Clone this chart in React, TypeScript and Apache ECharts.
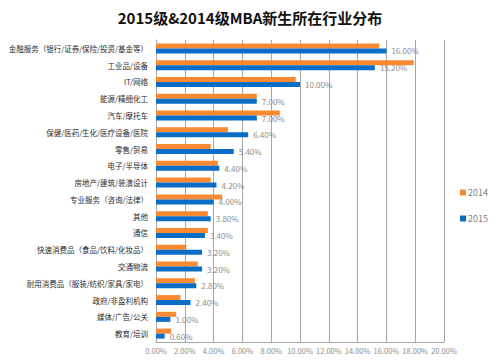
import React, { useEffect, useRef } from "react";
import * as echarts from "echarts";

const categories = [
  "金融服务（银行/证券/保险/投资/基金等）",
  "工业品/设备",
  "IT/网络",
  "能源/精细化工",
  "汽车/摩托车",
  "保健/医药/生化/医疗设备/医院",
  "零售/贸易",
  "电子/半导体",
  "房地产/建筑/装潢设计",
  "专业服务（咨询/法律）",
  "其他",
  "通信",
  "快速消费品（食品/饮料/化妆品）",
  "交通物流",
  "耐用消费品（服装/纺织/家具/家电）",
  "政府/非盈利机构",
  "媒体/广告/公关",
  "教育/培训",
];

const values2014 = [15.5, 17.9, 9.7, 7.0, 8.6, 5.0, 3.8, 4.3, 3.8, 4.6, 3.6, 3.6, 2.1, 2.9, 2.7, 1.7, 1.4, 1.05];
const values2015 = [16.0, 15.2, 10.0, 7.0, 7.0, 6.4, 5.4, 4.4, 4.2, 4.0, 3.8, 3.4, 3.2, 3.2, 2.8, 2.4, 1.0, 0.6];

const xTicks = { min: 0, max: 20, interval: 2 };

export default function App() {
  const ref = useRef<HTMLDivElement>(null);
  useEffect(() => {
    if (!ref.current) return;
    const chart = echarts.init(ref.current, undefined, { renderer: "svg" });
    const font = "'Noto Sans CJK SC', 'Noto Sans', sans-serif";
    chart.setOption({
      animation: false,
      backgroundColor: "#fff",
      textStyle: { fontFamily: font },
      title: {
        text: "2015级&2014级MBA新生所在行业分布",
        left: "center",
        top: 5,
        textStyle: { fontSize: 15, fontWeight: "bold", color: "#111", fontFamily: font },
      },
      legend: {
        orient: "vertical",
        left: 455,
        top: 183,
        itemWidth: 6,
        itemHeight: 6,
        itemGap: 17,
        icon: "rect",
        textStyle: { fontSize: 9, color: "#7f7f7f", padding: [0, 0, 0, -3] },
        data: ["2014", "2015"],
      },
      grid: { left: 156, right: 56, top: 40, bottom: 19, containLabel: false },
      xAxis: {
        type: "value",
        min: xTicks.min,
        max: xTicks.max,
        interval: xTicks.interval,
        axisLine: { show: true, lineStyle: { color: "#a6a6a6", width: 1 } },
        axisTick: { show: false },
        splitLine: { show: true, lineStyle: { color: "#a6a6a6", width: 1 } },
        axisLabel: {
          fontSize: 7.5,
          color: "#8c8c8c",
          margin: 5,
          formatter: (v: number) => v.toFixed(2) + "%",
        },
      },
      yAxis: {
        type: "category",
        inverse: true,
        data: categories,
        axisLine: { show: true, lineStyle: { color: "#a6a6a6", width: 1 } },
        axisTick: { show: false },
        axisLabel: { fontSize: 7.5, color: "#2b2b2b", margin: 8 },
      },
      series: [
        {
          name: "2014",
          type: "bar",
          data: values2014,
          barWidth: 5,
          barGap: "0%",
          itemStyle: { color: "#F98A32" },
        },
        {
          name: "2015",
          type: "bar",
          data: values2015,
          barWidth: 5,
          barGap: "0%",
          itemStyle: { color: "#0A6DC8" },
          label: {
            show: true,
            position: "right",
            distance: 5,
            fontSize: 8,
            color: "#8c8c8c",
            formatter: (p: any) => Number(p.value).toFixed(2) + "%",
          },
        },
      ],
    });
    return () => chart.dispose();
  }, []);
  return (
    <div
      ref={ref}
      style={{ position: "fixed", left: 0, top: 0, width: 500, height: 361 }}
    />
  );
}
